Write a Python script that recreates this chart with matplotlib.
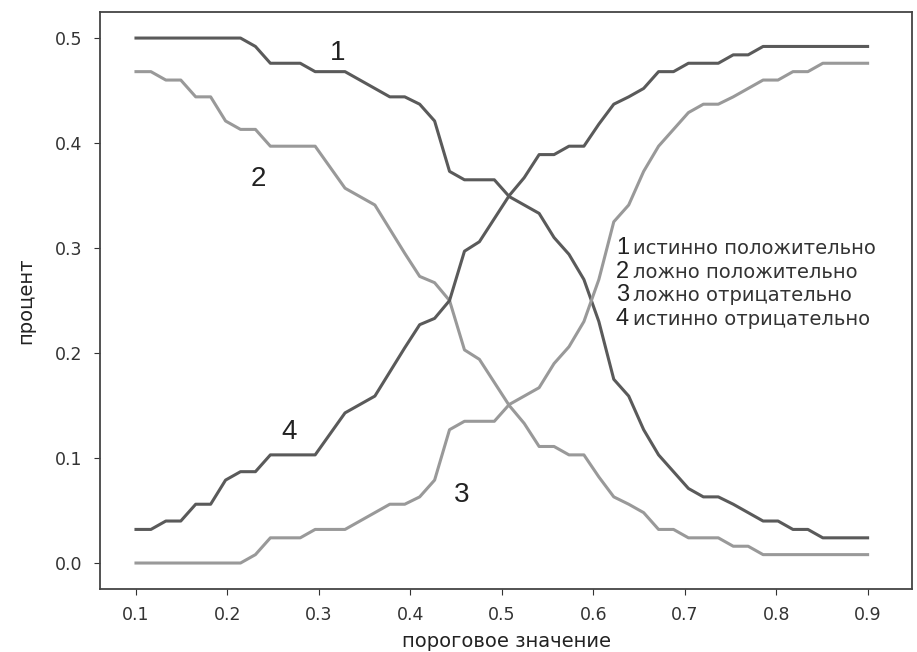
import numpy as np
import matplotlib
matplotlib.use('Agg')
import matplotlib.pyplot as plt

# thresholds: 50 points from 0.1 to 0.9
thresholds = np.linspace(0.1, 0.9, 50)

# 1 - true positive
tp = [0.5, 0.5, 0.5, 0.5, 0.5, 0.5, 0.5, 0.5, 0.492, 0.476,
      0.476, 0.476, 0.468, 0.468, 0.468, 0.460, 0.452, 0.444, 0.444, 0.437,
      0.421, 0.373, 0.365, 0.365, 0.365, 0.349, 0.341, 0.333, 0.310, 0.294,
      0.270, 0.230, 0.175, 0.159, 0.127, 0.103, 0.087, 0.071, 0.063, 0.063,
      0.056, 0.048, 0.040, 0.040, 0.032, 0.032, 0.024, 0.024, 0.024, 0.024]
# 2 - false positive
fp = [0.468, 0.468, 0.460, 0.460, 0.444, 0.444, 0.421, 0.413, 0.413, 0.397,
      0.397, 0.397, 0.397, 0.377, 0.357, 0.349, 0.341, 0.318, 0.295, 0.273,
      0.267, 0.250, 0.203, 0.194, 0.172, 0.150, 0.133, 0.111, 0.111, 0.103,
      0.103, 0.082, 0.063, 0.056, 0.048, 0.032, 0.032, 0.024, 0.024, 0.024,
      0.016, 0.016, 0.008, 0.008, 0.008, 0.008, 0.008, 0.008, 0.008, 0.008]
# 3 - false negative
fn = [0.0, 0.0, 0.0, 0.0, 0.0, 0.0, 0.0, 0.0, 0.008, 0.024,
      0.024, 0.024, 0.032, 0.032, 0.032, 0.040, 0.048, 0.056, 0.056, 0.063,
      0.079, 0.127, 0.135, 0.135, 0.135, 0.151, 0.159, 0.167, 0.190, 0.206,
      0.230, 0.270, 0.325, 0.341, 0.373, 0.397, 0.413, 0.429, 0.437, 0.437,
      0.444, 0.452, 0.460, 0.460, 0.468, 0.468, 0.476, 0.476, 0.476, 0.476]
# 4 - true negative
tn = [0.032, 0.032, 0.040, 0.040, 0.056, 0.056, 0.079, 0.087, 0.087, 0.103,
      0.103, 0.103, 0.103, 0.123, 0.143, 0.151, 0.159, 0.182, 0.205, 0.227,
      0.233, 0.250, 0.297, 0.306, 0.328, 0.350, 0.367, 0.389, 0.389, 0.397,
      0.397, 0.418, 0.437, 0.444, 0.452, 0.468, 0.468, 0.476, 0.476, 0.476,
      0.484, 0.484, 0.492, 0.492, 0.492, 0.492, 0.492, 0.492, 0.492, 0.492]

legend_items = ['истинно положительно', 'ложно положительно',
                'ложно отрицательно', 'истинно отрицательно']

dark = '#5a5a5a'
light = '#999999'

fig = plt.figure(figsize=(9.17, 6.52), dpi=100)
# axes box: left spine ~100px, right ~912px, top ~12px, bottom ~589px
ax = fig.add_axes([0.109, 0.0962, 0.886, 0.8857])

ax.plot(thresholds, tp, color=dark, lw=2.2)
ax.plot(thresholds, fp, color=light, lw=2.2)
ax.plot(thresholds, fn, color=light, lw=2.2)
ax.plot(thresholds, tn, color=dark, lw=2.2)
ax.set_xlim(0.0606, 0.949)
ax.set_ylim(-0.025, 0.525)

# curve numbers
num_font = dict(family='Liberation Sans', fontsize=20, color='#222222',
                ha='center', va='center')
ax.text(0.321, 0.486, '1', **num_font)
ax.text(0.234, 0.366, '2', **num_font)
ax.text(0.456, 0.065, '3', **num_font)
ax.text(0.267, 0.125, '4', **num_font)

# hand made legend
ly = [0.300, 0.277, 0.255, 0.232]
for i in range(4):
    ax.text(0.632, ly[i], str(i + 1), family='Liberation Sans', fontsize=17,
            color='#222222', ha='center', va='center')
    ax.text(0.643, ly[i], legend_items[i], fontsize=14, color='#333333',
            ha='left', va='center')

ax.set_xticks([0.1, 0.2, 0.3, 0.4, 0.5, 0.6, 0.7, 0.8, 0.9])
ax.set_yticks([0.0, 0.1, 0.2, 0.3, 0.4, 0.5])
ax.tick_params(labelsize=12.5, colors='#333333', length=4)
ax.tick_params(axis='y', pad=9)
ax.tick_params(axis='x', pad=8)
for s in ax.spines.values():
    s.set_color('#444444')
    s.set_linewidth(1.3)

ax.set_xlabel('пороговое значение', fontsize=14, color='#222222', labelpad=6)
ax.set_ylabel('процент', fontsize=14, color='#222222', labelpad=14)

fig.savefig('out.png', dpi=100)
